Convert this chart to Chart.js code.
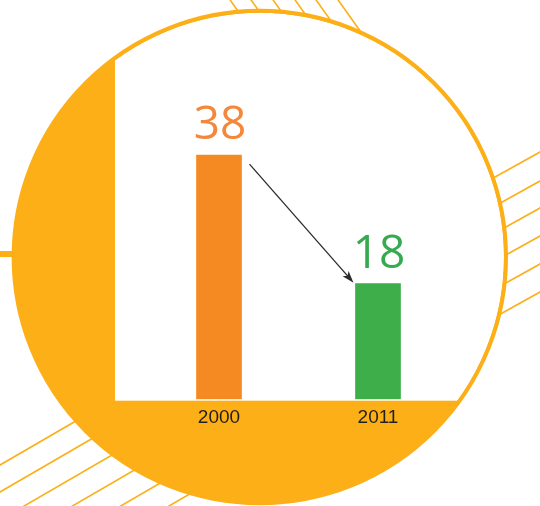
<!DOCTYPE html>
<html>
<head>
<meta charset="utf-8">
<script src="https://cdn.jsdelivr.net/npm/chart.js@4/dist/chart.umd.min.js"></script>
<style>
  html, body { margin: 0; padding: 0; background: #fff; }
</style>
</head>
<body>
<canvas id="chart" width="540" height="506"></canvas>
<script>
const years = ["2000", "2011"]
const values = [38, 18]
const barColors = ["#F48A21", "#3DAE4A"]
const labelColors = ["#F5873A", "#37AA50"]

const ORANGE = "#FCAF17"
const circle = { x: 259.8, y: 257, r: 246.2 }

// decoration behind the bars: stripes, big circle, white plot window
const backdrop = {
  id: "backdrop",
  beforeDraw(chart) {
    const ctx = chart.ctx
    const area = chart.chartArea
    ctx.save()
    ctx.fillStyle = "#fff"
    ctx.fillRect(0, 0, chart.width, chart.height)

    ctx.strokeStyle = ORANGE
    ctx.lineWidth = 1.6
    ctx.beginPath()
    // top stripes
    ;[230, 251, 273, 295, 316, 338].forEach(x0 => {
      ctx.moveTo(x0 - 7, -10)
      ctx.lineTo(x0 + 50, 70)
    })
    // right stripes
    ;[152, 181, 208, 236, 264, 292].forEach(c => {
      ctx.moveTo(440, c + 0.556 * 100)
      ctx.lineTo(550, c - 0.556 * 10)
    })
    // bottom left stripes
    ;[465, 492, 520, 548, 576, 604].forEach(b => {
      ctx.moveTo(-10, b + 5.8)
      ctx.lineTo(250, b - 145)
    })
    ctx.stroke()

    ctx.fillStyle = ORANGE
    ctx.fillRect(0, 251, 30, 6)

    ctx.beginPath()
    ctx.arc(circle.x, circle.y, circle.r, 0, Math.PI * 2)
    ctx.fill()

    ctx.save()
    ctx.beginPath()
    ctx.arc(circle.x, circle.y, circle.r - 2, 0, Math.PI * 2)
    ctx.clip()
    ctx.fillStyle = "#fff"
    ctx.fillRect(115, 0, chart.width, area.bottom + 1.4)
    ctx.restore()

    ctx.beginPath()
    ctx.arc(circle.x, circle.y, circle.r, 0, Math.PI * 2)
    ctx.lineWidth = 4
    ctx.strokeStyle = ORANGE
    ctx.stroke()
    ctx.restore()
  }
}

// value labels and the arrow between the two bars
const annotate = {
  id: "annotate",
  afterDatasetsDraw(chart) {
    const ctx = chart.ctx
    const bars = chart.getDatasetMeta(0).data
    ctx.save()
    ctx.font = "46px 'Open Sans'"
    ctx.textAlign = "center"
    ctx.textBaseline = "alphabetic"
    bars.forEach((bar, i) => {
      ctx.fillStyle = labelColors[i]
      ctx.fillText(String(values[i]), bar.x + 1, bar.y - 16)
    })

    const a = bars[0], b = bars[1]
    const x1 = a.x + a.width / 2 + 8, y1 = a.y + 9
    const x2 = b.x - b.width / 2 - 2, y2 = b.y - 1
    const ang = Math.atan2(y2 - y1, x2 - x1)
    ctx.strokeStyle = "#2b2b2b"
    ctx.fillStyle = "#2b2b2b"
    ctx.lineWidth = 1.3
    ctx.beginPath()
    ctx.moveTo(x1, y1)
    ctx.lineTo(x2 - 8 * Math.cos(ang), y2 - 8 * Math.sin(ang))
    ctx.stroke()
    ctx.beginPath()
    ctx.moveTo(x2, y2)
    ctx.lineTo(x2 - 12 * Math.cos(ang) + 4 * Math.sin(ang), y2 - 12 * Math.sin(ang) - 4 * Math.cos(ang))
    ctx.lineTo(x2 - 9 * Math.cos(ang), y2 - 9 * Math.sin(ang))
    ctx.lineTo(x2 - 12 * Math.cos(ang) - 4 * Math.sin(ang), y2 - 12 * Math.sin(ang) + 4 * Math.cos(ang))
    ctx.closePath()
    ctx.fill()
    ctx.restore()
  }
}

new Chart(document.getElementById("chart"), {
  type: "bar",
  data: {
    labels: years,
    datasets: [
      {
        data: values,
        backgroundColor: barColors,
        barThickness: 45,
      },
    ],
  },
  options: {
    responsive: false,
    animation: false,
    devicePixelRatio: 1,
    layout: {
      padding: { left: 139.5, right: 82.5, top: 78, bottom: 76.7 },
    },
    scales: {
      x: {
        afterFit: scale => { scale.height = 30 },
        grid: { display: false, drawTicks: false },
        border: { display: false },
        ticks: {
          color: "#231F20",
          padding: 7,
          font: { family: "'Liberation Sans', Arial", size: 19 },
        },
      },
      y: { display: false, min: 0, max: 50 },
    },
    plugins: {
      legend: { display: false },
      tooltip: { enabled: false },
    },
  },
  plugins: [backdrop, annotate],
})
</script>
</body>
</html>
